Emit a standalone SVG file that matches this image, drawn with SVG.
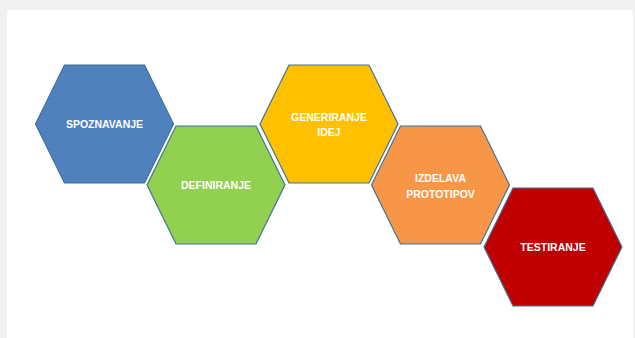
<svg xmlns="http://www.w3.org/2000/svg" width="635" height="338" viewBox="0 0 635 338">
<style>
.hex{stroke:#41719c;stroke-width:1.2;stroke-linejoin:miter}
.lbl{font-family:"Liberation Sans",Arial,sans-serif;font-weight:bold;font-size:10.5px;fill:#ffffff;text-anchor:middle;dominant-baseline:central}
</style>
<defs>
<polygon id="hx" points="-69,0 -40,-59 40,-59 69,0 40,59 -40,59"/>
</defs>
<rect x="0" y="0" width="635" height="338" fill="#f0f0f0"/>
<rect x="7" y="10" width="626" height="328" fill="#ffffff"/>
<g id="connectors"/>
<g id="n1" transform="translate(104.5,124)">
<use href="#hx" class="hex" fill="#4f81bd"/>
<text class="lbl" x="0" y="0">SPOZNAVANJE</text>
</g>
<g id="n2" transform="translate(216,185)">
<use href="#hx" class="hex" fill="#92d050"/>
<text class="lbl" x="0" y="0">DEFINIRANJE</text>
</g>
<g id="n3" transform="translate(329,124)">
<use href="#hx" class="hex" fill="#ffc000"/>
<text class="lbl" x="0" y="-7.5">GENERIRANJE</text>
<text class="lbl" x="0" y="8">IDEJ</text>
</g>
<g id="n4" transform="translate(440.5,185)">
<use href="#hx" class="hex" fill="#f79646"/>
<text class="lbl" x="0" y="-7">IZDELAVA</text>
<text class="lbl" x="0" y="9">PROTOTIPOV</text>
</g>
<g id="n5" transform="translate(553,247)">
<use href="#hx" class="hex" fill="#c00000"/>
<text class="lbl" x="0" y="0">TESTIRANJE</text>
</g>
</svg>
